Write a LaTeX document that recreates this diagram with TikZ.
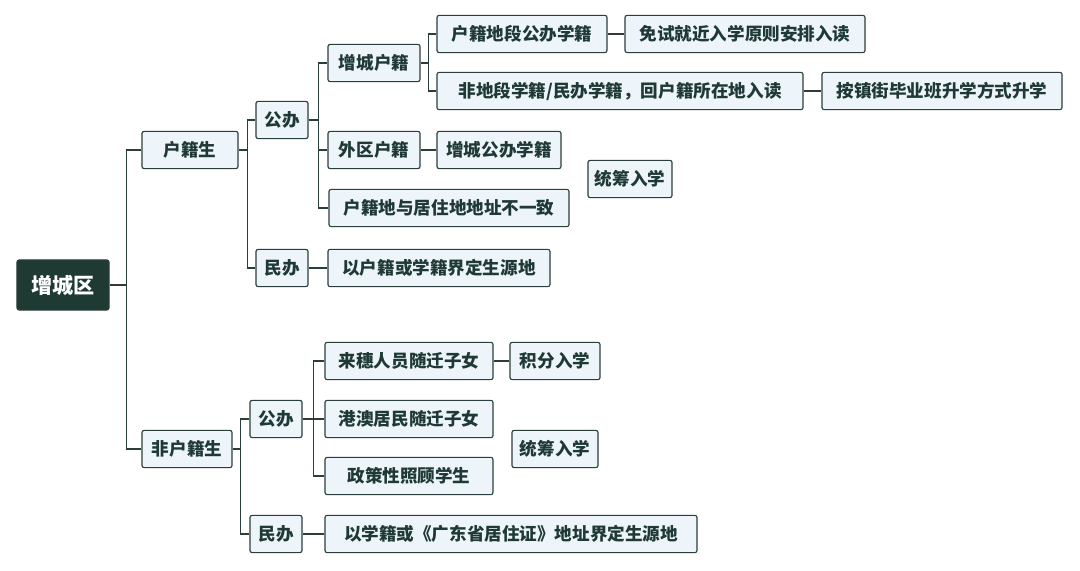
\documentclass[tikz,border=0pt]{standalone}
\usepackage{fontspec}
\setmainfont{Noto Sans CJK SC}
\definecolor{linec}{HTML}{2B3F3A}
\definecolor{boxfill}{HTML}{EEF5FA}
\definecolor{rootfill}{HTML}{1E3A33}
\definecolor{textc}{HTML}{1F3A36}

\begin{document}
\begin{tikzpicture}[x=0.025cm,y=-0.025cm,
  leaf/.style={draw=linec,fill=boxfill,rounded corners=1.5pt,line width=0.8pt,
    minimum height=0.93cm,inner sep=2pt,text=textc,font=\fontsize{12.5}{14}\selectfont\bfseries},
  link/.style={draw=linec,line width=0.8pt}]
  \useasboundingbox (0,0) rectangle (1080,571);
  % nodes (absolute positions)
  \node[leaf,fill=rootfill,text=white,minimum width=2.3cm,minimum height=1.25cm,font=\fontsize{15}{17}\selectfont\bfseries] at (63,285) (root) {增城区};
  \node[leaf,minimum width=2.4cm] at (190,150) (hj) {户籍生};
  \node[leaf,minimum width=1.3cm] at (282,120) (gb1) {公办};
  \node[leaf,minimum width=1.3cm] at (282,268) (mb1) {民办};
  \node[leaf,minimum width=2.3cm] at (374,63) (zchj) {增城户籍};
  \node[leaf,minimum width=2.3cm] at (374,150) (wqhj) {外区户籍};
  \node[leaf,minimum width=6.0cm] at (449,208) (byz) {户籍地与居住地地址不一致};
  \node[leaf,minimum width=5.55cm] at (439,268) (jd1) {以户籍或学籍界定生源地};
  \node[leaf,minimum width=4.25cm] at (522,34) (dd) {户籍地段公办学籍};
  \node[leaf,minimum width=9.15cm] at (620,91) (fdd) {非地段学籍/民办学籍，回户籍所在地入读};
  \node[leaf,minimum width=6.0cm] at (745,34) (ms) {免试就近入学原则安排入读};
  \node[leaf,minimum width=6.0cm] at (942,91) (zj) {按镇街毕业班升学方式升学};
  \node[leaf,minimum width=3.1cm] at (499,150) (zcgb) {增城公办学籍};
  \node[leaf,minimum width=2.1cm] at (630,179) (tc1) {统筹入学};
  \node[leaf,minimum width=2.25cm] at (187,449) (fhj) {非户籍生};
  \node[leaf,minimum width=1.3cm] at (276,419) (gb2) {公办};
  \node[leaf,minimum width=1.3cm] at (276,534) (mb2) {民办};
  \node[leaf,minimum width=4.2cm] at (409,361) (ls) {来穗人员随迁子女};
  \node[leaf,minimum width=4.2cm] at (409,419) (ga) {港澳居民随迁子女};
  \node[leaf,minimum width=4.2cm] at (409,476) (zc) {政策性照顾学生};
  \node[leaf,minimum width=2.25cm] at (555,361) (jf) {积分入学};
  \node[leaf,minimum width=2.15cm] at (555,449) (tc2) {统筹入学};
  \node[leaf,minimum width=9.3cm] at (511,534) (jd2) {以学籍或《广东省居住证》地址界定生源地};
  % connectors
  \foreach \c in {hj,fhj} \draw[link] (root.east) -- ++(17,0) |- (\c.west);
  \foreach \c in {gb1,mb1} \draw[link] (hj.east) -- ++(9,0) |- (\c.west);
  \foreach \c in {zchj,wqhj,byz} \draw[link] (gb1.east) -- ++(10,0) |- (\c.west);
  \foreach \c in {dd,fdd} \draw[link] (zchj.east) -- ++(8,0) |- (\c.west);
  \foreach \c in {gb2,mb2} \draw[link] (fhj.east) -- ++(8,0) |- (\c.west);
  \foreach \c in {ls,ga,zc} \draw[link] (gb2.east) -- ++(11,0) |- (\c.west);
  \draw[link] (mb1) -- (jd1);
  \draw[link] (wqhj) -- (zcgb);
  \draw[link] (dd) -- (ms);
  \draw[link] (fdd) -- (zj);
  \draw[link] (ls) -- (jf);
  \draw[link] (mb2) -- (jd2);
\end{tikzpicture}
\end{document}
